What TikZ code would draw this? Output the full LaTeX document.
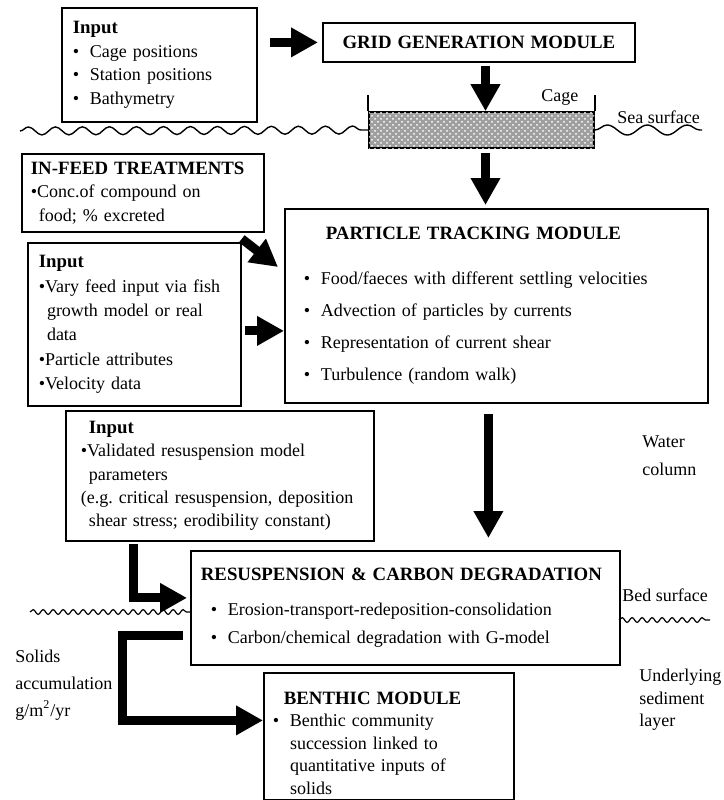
\documentclass[tikz,border=0pt]{standalone}
\usepackage{fontspec}
\setmainfont{Liberation Serif}
\usetikzlibrary{arrows.meta, calc, positioning, patterns, decorations.pathmorphing}
\frenchspacing

\newcommand{\hd}[1]{{\fontsize{9.4}{11.8}\selectfont\bfseries #1}}
\newcommand{\bul}{\makebox[0.95em][l]{\textbullet}}

\begin{document}
\begin{tikzpicture}[
  x=0.5pt, y=-0.5pt,
  every node/.style={font=\fontsize{9}{11.8}\selectfont},
  box/.style={rectangle, draw, line width=0.9pt, anchor=north west,
              align=left, inner ysep=0pt},
  lbl/.style={anchor=west, align=left, inner sep=0pt},
  blk/.style={line width=4.5pt, -{Triangle[length=13.5pt, width=14pt]}},
  wave/.style={decorate, decoration={snake, segment length=13.5pt, amplitude=2pt},
               line width=0.7pt},
  fine/.style={decorate, decoration={snake, segment length=5pt, amplitude=1.2pt},
               line width=0.6pt},
  cagebox/.style={rectangle, draw, line width=0.8pt, fill=gray!75,
                  postaction={pattern=crosshatch dots, pattern color=white},
                  minimum width=112.5pt, minimum height=18pt, inner sep=0pt},
]
\useasboundingbox (0,0) rectangle (724,800);

% boxes
\node[box, inner xsep=5.5pt, text width=86.5pt, minimum height=57pt] (inGrid) at (61,7)
  {\hd{Input}\\ \bul Cage positions\\ \bul Station positions\\ \bul Bathymetry};
\node[box, align=center, inner xsep=5pt, text width=146pt, minimum height=19.5pt] (grid) at (322,22)
  {\hd{GRID GENERATION MODULE}};
\node[cagebox] (cage) at (481.5,130) {};
\node[box, inner xsep=4.5pt, text width=112pt, minimum height=39pt] (feed) at (21,153)
  {\hd{IN-FEED TREATMENTS}\\ \textbullet Conc.of compound on\\ \hspace*{0.45em}food; \% excreted};
\node[box, inner xsep=5.5pt, text width=95.5pt, minimum height=81.5pt, font=\fontsize{9}{12.2}\selectfont] (inTrack) at (27,242)
  {\hd{Input}\\ \textbullet Vary feed input via fish\\ \hspace*{0.45em}growth model or real\\
   \hspace*{0.45em}data\\ \textbullet Particle attributes\\ \textbullet Velocity data};
\node[box, inner xsep=9.5pt, text width=192.5pt, minimum height=97pt, font=\fontsize{9}{16}\selectfont] (track) at (284,208)
  {\hspace*{11pt}\hd{PARTICLE TRACKING MODULE}\\[6.5pt]
   \bul Food/faeces with different settling velocities\\
   \bul Advection of particles by currents\\
   \bul Representation of current shear\\
   \bul Turbulence (random walk)};
\node[box, inner xsep=7.5pt, text width=139pt, minimum height=65pt, font=\fontsize{9}{11.6}\selectfont] (inResus) at (65,410)
  {\hspace*{4pt}\hd{Input}\\ \textbullet Validated resuspension model\\ \hspace*{0.45em}parameters\\
   (e.g. critical resuspension, deposition\\ \hspace*{0.45em}shear stress; erodibility constant)};
\node[box, inner xsep=5pt, text width=204.5pt, minimum height=57pt, font=\fontsize{9}{14}\selectfont] (resus) at (190,550)
  {\hd{RESUSPENSION \& CARBON DEGRADATION}\\[3.5pt]
   \hspace*{5pt}\bul Erosion-transport-redeposition-consolidation\\
   \hspace*{5pt}\bul Carbon/chemical degradation with G-model};
\node[box, inner xsep=4.5pt, text width=116pt, minimum height=63.5pt, font=\fontsize{9}{11.25}\selectfont] (benthic) at (263,672)
  {\rule{0pt}{13pt}\hspace*{5.5pt}\hd{BENTHIC MODULE}\\ \bul Benthic community\\
   \hspace*{0.95em}succession linked to\\ \hspace*{0.95em}quantitative inputs of\\ \hspace*{0.95em}solids};

% cage posts
\draw[line width=0.9pt] (cage.north west) -- ++(0,-16);
\draw[line width=0.9pt] (cage.north east) -- ++(0,-16);

% surfaces
\draw[wave] (20,131) -- (cage.west);
\draw[wave, decoration={segment length=20pt, amplitude=2.5pt}] (cage.east) -- (702,130);
\draw[fine] (30,612) -- (190,612);
\draw[fine] (619,620) -- (710,620);

% labels
\node[lbl] (cageLbl) at (541,97) {Cage};
\node[lbl] (seaLbl) at (617,117) {Sea surface};
\node[lbl, font=\fontsize{9}{14}\selectfont] (waterLbl) at (642,456) {Water\\column};
\node[lbl] (bedLbl) at (622,595) {Bed surface};
\node[lbl, font=\fontsize{9}{11.25}\selectfont] (sedLbl) at (639,700) {Underlying\\sediment\\layer};
\node[lbl, font=\fontsize{9}{13.5}\selectfont] (solidsLbl) at (15,685) {Solids\\accumulation\\g/m\textsuperscript{2}/yr};

% flows
\draw[blk] ($(inGrid.east |- grid.west)+(12,0)$) -- ($(grid.west)+(-4,0)$);
\draw[blk] ($(grid.south -| cage.north)+(4,3)$) -- ($(cage.north)+(4,0)$);
\draw[blk] ($(cage.south)+(4,4)$) -- ($(cage.south |- track.north)+(4,-3)$);
\draw[blk] ($(feed.south east)+(-23,6)$) -- ($(track.north west)+(-6,59)$);
\draw[blk] ($(inTrack.east)+(3,6.5)$) -- ($(inTrack.east -| track.west)+(0,6.5)$);
\draw[blk] ($(track.south)+(-8,10)$) -- ($(track.south |- resus.north)+(-8,-12)$);
\draw[blk] ($(inResus.south west)+(68,2)$) |- ($(resus.west)+(-3,-10)$);
\draw[blk] ($(resus.west)+(-7,28)$) -| ($(benthic.west)+(-141,-16)$) -- ($(benthic.west)+(0,-16)$);
\end{tikzpicture}
\end{document}
